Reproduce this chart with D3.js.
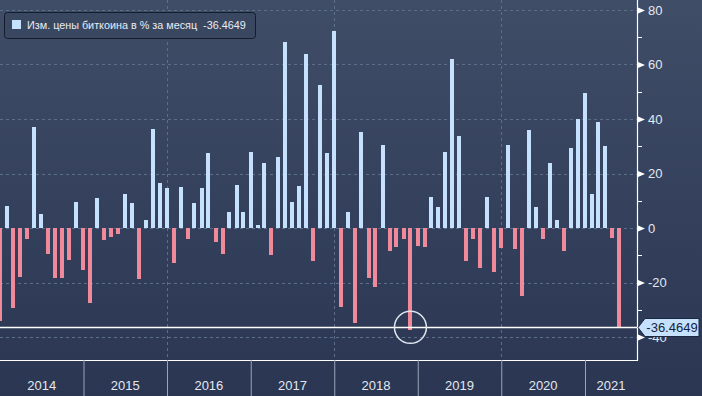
<!DOCTYPE html>
<html lang="ru">
<head>
<meta charset="UTF-8">
<title>Bitcoin monthly change</title>
<script src="https://d3js.org/d3.v7.min.js"></script>
<style>
  html, body { margin: 0; padding: 0; background: #2b3753; }
  svg { display: block; font-family: "Liberation Sans", Arial, sans-serif; }
</style>
</head>
<body>
<div id="chart"></div>
<script>
// monthly % change of bitcoin price, one array per year (Dec 2013 .. May 2021)
var v2013 = [-34.3];
var v2014 = [8.0, -29.4, -17.9, -4.0, 37.0, 5.1, -9.4, -18.2, -18.5, -11.8, 9.5, -15.5];
var v2015 = [-27.7, 11.0, -4.3, -3.2, -2.1, 12.4, 9.1, -18.8, 2.9, 36.2, 16.5, 14.5];
var v2016 = [-12.7, 15.0, -3.9, 9.1, 14.6, 27.4, -5.0, -9.4, 5.9, 15.9, 5.9, 27.8];
var v2017 = [1.1, 23.8, -9.9, 26.1, 68.3, 9.5, 15.4, 64.0, -12.0, 52.6, 27.4, 72.4];
var v2018 = [-29.1, 5.9, -35.0, 35.1, -18.5, -21.8, 30.4, -8.3, -6.8, -4.0, -37.4, -6.5];
var v2019 = [-6.8, 11.3, 7.7, 27.8, 62.2, 33.7, -12.0, -3.9, -14.5, 11.2, -16.1, -7.3];
var v2020 = [30.3, -7.7, -25.1, 35.8, 7.6, -4.0, 23.7, 2.8, -8.6, 29.2, 39.9, 49.4];
var v2021 = [12.3, 38.8, 30.0, -3.7, -36.4649];

var yearLabels = ["2014", "2015", "2016", "2017", "2018", "2019", "2020", "2021"];
var yTicks = [80, 60, 40, 20, 0, -20, -40];
var yMinor = [70, 50, 30, 10, -10, -30];
var gridYears = [2016, 2018, 2020];
var legendText = "Изм. цены биткоина в % за месяц";
var lastValue = -36.4649;

var width = 702, height = 396;
var plotRight = 637, plotBottom = 360;

var values = [].concat(v2013, v2014, v2015, v2016, v2017, v2018, v2019, v2020, v2021);
// bars sit at month end; first bar is December 2013
var data = values.map(function (v, i) {
    return { date: new Date(2013, 12 + i, 0), value: v };
});

var x = d3.scaleTime()
    .domain([new Date(2014, 0, 1), new Date(2021, 0, 1)])
    .range([0, 585]);
var y = d3.scaleLinear()
    .domain([-40, 80])
    .range([337, 10]);

var svg = d3.select("#chart").append("svg")
    .attr("width", width)
    .attr("height", height);

var defs = svg.append("defs");
var grad = defs.append("linearGradient")
    .attr("id", "bg")
    .attr("x1", 0).attr("y1", 0).attr("x2", 0).attr("y2", 1);
grad.append("stop").attr("offset", "0%").attr("stop-color", "#404d67");
grad.append("stop").attr("offset", "100%").attr("stop-color", "#2a3652");

defs.append("clipPath").attr("id", "plotclip")
    .append("rect").attr("x", 0).attr("y", 0)
    .attr("width", plotRight).attr("height", plotBottom);

svg.append("rect")
    .attr("width", width).attr("height", height)
    .attr("fill", "url(#bg)");

// grid
var grid = svg.append("g").attr("clip-path", "url(#plotclip)");
grid.selectAll(".hgrid").data(yTicks).enter().append("line")
    .attr("x1", 0).attr("x2", plotRight)
    .attr("y1", function (d) { return Math.round(y(d)) + 0.5; })
    .attr("y2", function (d) { return Math.round(y(d)) + 0.5; })
    .attr("stroke", "#5c6f8a")
    .attr("stroke-dasharray", "3,3");
grid.selectAll(".vgrid").data(gridYears).enter().append("line")
    .attr("x1", function (d) { return Math.round(x(new Date(d, 0, 1))) + 0.5; })
    .attr("x2", function (d) { return Math.round(x(new Date(d, 0, 1))) + 0.5; })
    .attr("y1", 0).attr("y2", plotBottom)
    .attr("stroke", "#5c6f8a")
    .attr("stroke-dasharray", "3,3");

// bars
var barW = 4;
svg.append("g").attr("clip-path", "url(#plotclip)")
    .selectAll("rect").data(data).enter().append("rect")
    .attr("x", function (d) { return Math.round(x(d.date) - barW / 2); })
    .attr("width", barW)
    .attr("y", function (d) { return Math.round(y(Math.max(0, d.value))); })
    .attr("height", function (d) { return Math.round(Math.abs(y(d.value) - y(0))); })
    .attr("fill", function (d) { return d.value >= 0 ? "#c6e1fd" : "#f0899a"; });

// last value line
svg.append("line")
    .attr("x1", 0).attr("x2", plotRight)
    .attr("y1", Math.round(y(lastValue)) + 0.5)
    .attr("y2", Math.round(y(lastValue)) + 0.5)
    .attr("stroke", "#ffffff")
    .attr("stroke-width", 1.5);

// circle around the lowest bar
var minD = data.reduce(function (a, b) { return b.value < a.value ? b : a; });
svg.append("circle")
    .attr("cx", x(minD.date))
    .attr("cy", y(lastValue))
    .attr("r", 16)
    .attr("fill", "none")
    .attr("stroke", "#dfe5ee")
    .attr("stroke-width", 1.5);

// frame
svg.append("path")
    .attr("d", "M0," + (plotBottom + 0.5) + "H" + (plotRight + 0.5) + "V0")
    .attr("fill", "none")
    .attr("stroke", "#ffffff")
    .attr("stroke-width", 1.2);

// right axis (the -40 label sits partly under the value tag, as in the source)
var yAxis = d3.axisRight(y).tickValues(yTicks).tickSize(0).tickPadding(11)
    .tickFormat(function (d) { return d < 0 ? "-" + Math.abs(d) : d; });
var ya = svg.append("g")
    .attr("transform", "translate(" + plotRight + ",0)")
    .call(yAxis);
ya.select(".domain").remove();
ya.selectAll("text")
    .attr("fill", "#e3e8f0")
    .style("font-size", "13px")
    .style("font-family", "'Liberation Sans', Arial, sans-serif");
ya.selectAll(".tick").append("path")
    .attr("d", "M1,-3L8,0L1,3Z")
    .attr("fill", "#ffffff");
svg.append("g").selectAll("line").data(yMinor).enter().append("line")
    .attr("x1", plotRight).attr("x2", plotRight + 5)
    .attr("y1", function (d) { return Math.round(y(d)) + 0.5; })
    .attr("y2", function (d) { return Math.round(y(d)) + 0.5; })
    .attr("stroke", "#ffffff");

// last value tag
var ly = Math.round(y(lastValue)) + 0.5;
svg.append("path")
    .attr("d", "M638," + ly + "L645," + (ly - 9) + "H699V" + (ly + 9) + "H645Z")
    .attr("fill", "#c6e1fd")
    .attr("stroke", "#1d2940")
    .attr("stroke-width", 1);
svg.append("text")
    .attr("x", 672).attr("y", ly + 4.5)
    .attr("text-anchor", "middle")
    .attr("fill", "#16223a")
    .style("font-size", "13px")
    .text(lastValue.toFixed(4));

// bottom axis: year separators and labels
var yearStarts = yearLabels.map(function (t) { return new Date(+t, 0, 1); });
var xAxis = d3.axisBottom(x).tickValues(yearStarts.slice(1)).tickSize(height - plotBottom)
    .tickFormat("");
var xa = svg.append("g")
    .attr("transform", "translate(0," + plotBottom + ")")
    .call(xAxis);
xa.select(".domain").remove();
xa.selectAll(".tick line").attr("stroke", "#9aa5b8");
svg.append("g").selectAll("text").data(yearLabels).enter().append("text")
    .attr("x", function (d) {
        var a = x(new Date(+d, 0, 1)), b = Math.min(x(new Date(+d + 1, 0, 1)), plotRight);
        return (a + b) / 2;
    })
    .attr("y", 390)
    .attr("text-anchor", "middle")
    .attr("fill", "#e3e8f0")
    .style("font-size", "13px")
    .text(function (d) { return d; });

// legend
var lg = svg.append("g");
lg.append("rect")
    .attr("x", 4.5).attr("y", 12.5)
    .attr("width", 251).attr("height", 26)
    .attr("rx", 3)
    .attr("fill", "#3a4761")
    .attr("stroke", "#151c2b");
lg.append("rect")
    .attr("x", 12).attr("y", 20)
    .attr("width", 9).attr("height", 9)
    .attr("fill", "#c6e1fd");
lg.append("text")
    .attr("x", 27).attr("y", 29)
    .attr("fill", "#e8ecf3")
    .style("font-size", "10.8px")
    .style("white-space", "pre")
    .text(legendText + "  " + lastValue.toFixed(4));
</script>
</body>
</html>
